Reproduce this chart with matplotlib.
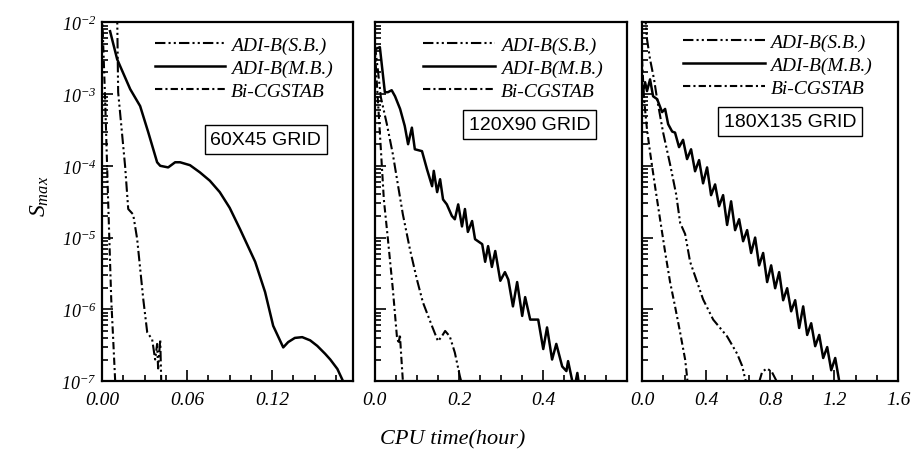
"""convergence history of S_max for the three grids"""
import numpy as np
import matplotlib.pyplot as plt
from matplotlib.ticker import FixedLocator, MultipleLocator, LogLocator, NullFormatter

plt.rcParams['font.family'] = 'Liberation Serif'
plt.rcParams['mathtext.fontset'] = 'custom'
plt.rcParams['mathtext.rm'] = 'Liberation Serif:italic'
plt.rcParams['mathtext.it'] = 'Liberation Serif:italic'

labels = ["ADI-B(S.B.)", "ADI-B(M.B.)", "Bi-CGSTAB"]
grids = ["60X45 GRID", "120X90 GRID", "180X135 GRID"]

# 60x45 grid
p1_sb_t = [0.0106, 0.0113, 0.0162, 0.0184, 0.0219, 0.0247, 0.0290, 0.0318, 0.0353,
           0.0374, 0.0388, 0.0395, 0.0410, 0.0417, 0.0420]
p1_sb_s = [1.3e-2, 1.06e-3, 9.9e-5, 2.5e-5, 2.1e-5, 9.6e-6, 1.4e-6, 4.8e-7, 3.8e-7,
           2.0e-7, 3.3e-7, 1.5e-7, 3.8e-7, 1.0e-7, 8e-8]
p1_mb_t = [0.0056, 0.0106, 0.0127, 0.0198, 0.0268, 0.0325, 0.0388, 0.0410, 0.0466,
           0.0515, 0.0550, 0.0620, 0.0690, 0.0760, 0.0830, 0.0900, 0.0974, 0.1080,
           0.1150, 0.1207, 0.1278, 0.1313, 0.1360, 0.1412, 0.1468, 0.1518, 0.1574,
           0.1610, 0.1660, 0.1700, 0.1720]
p1_mb_s = [7.5e-3, 3.05e-3, 2.45e-3, 1.17e-3, 6.8e-4, 2.95e-4, 1.12e-4, 1.0e-4, 9.5e-5,
           1.12e-4, 1.12e-4, 1.02e-4, 8.1e-5, 6.2e-5, 4.3e-5, 2.6e-5, 1.3e-5, 4.6e-6,
           1.74e-6, 5.9e-7, 2.95e-7, 3.5e-7, 4.0e-7, 4.1e-7, 3.7e-7, 3.1e-7, 2.4e-7,
           2.0e-7, 1.48e-7, 1.0e-7, 8.5e-8]
p1_bi_t = [0.000, 0.0021, 0.0042, 0.0064, 0.0078, 0.0092, 0.0095]
p1_bi_s = [1.3e-2, 8.5e-4, 3.4e-5, 1.4e-6, 3.8e-7, 1.0e-7, 8e-8]

# 120x90 grid
p2_sb_t = [0.000, 0.0071, 0.0143, 0.0286, 0.0428, 0.0547, 0.0666, 0.0833, 0.100,
           0.114, 0.136, 0.150, 0.159, 0.167, 0.178, 0.190, 0.202, 0.207]
p2_sb_s = [4.9e-3, 2.2e-3, 9.0e-4, 3.8e-4, 1.45e-4, 5.5e-5, 2.1e-5, 6.9e-6, 2.6e-6,
           1.26e-6, 5.8e-7, 3.6e-7, 4.2e-7, 5.0e-7, 4.2e-7, 2.5e-7, 1.17e-7, 9e-8]
p2_mb_t = [0.000, 0.0119, 0.0238, 0.031, 0.040, 0.048, 0.060, 0.071, 0.079, 0.088,
           0.095, 0.112, 0.124, 0.136, 0.140, 0.148, 0.155, 0.162, 0.171, 0.183,
           0.190, 0.198, 0.207, 0.214, 0.221, 0.231, 0.238, 0.255, 0.262, 0.269,
           0.278, 0.286, 0.298, 0.309, 0.317, 0.328, 0.338, 0.350, 0.357, 0.369,
           0.388, 0.400, 0.409, 0.421, 0.431, 0.445, 0.455, 0.459, 0.469, 0.474,
           0.481, 0.486]
p2_mb_s = [4.2e-3, 4.5e-3, 1.06e-3, 1.06e-3, 1.13e-3, 9.3e-4, 6.2e-4, 3.6e-4, 2.0e-4, 3.4e-4,
           1.7e-4, 1.6e-4, 8.9e-5, 5.2e-5, 8.5e-5, 4.3e-5, 6.5e-5, 3.4e-5, 2.9e-5, 2.0e-5,
           1.8e-5, 2.9e-5, 1.43e-5, 2.5e-5, 1.2e-5, 1.7e-5, 9.5e-6, 8.1e-6, 4.6e-6, 7.6e-6,
           3.9e-6, 6.5e-6, 2.5e-6, 3.3e-6, 2.6e-6, 1.1e-6, 2.4e-6, 8.1e-7, 1.48e-6, 7.2e-7,
           7.2e-7, 2.8e-7, 5.6e-7, 2.0e-7, 3.3e-7, 1.6e-7, 1.38e-7, 1.9e-7, 1.0e-7, 8e-8,
           1.3e-7, 8e-8]
p2_bi_t = [0.000, 0.0071, 0.0143, 0.0214, 0.031, 0.0428, 0.0524, 0.057, 0.0595,
           0.062, 0.0666, 0.069]
p2_bi_s = [4.2e-3, 8.5e-4, 1.7e-4, 3.4e-5, 9.6e-6, 1.9e-6, 4.2e-7, 3.3e-7, 4.5e-7,
           2.6e-7, 1.0e-7, 8e-8]

# 180x135 grid
p3_sb_t = [0.019, 0.031, 0.050, 0.075, 0.094, 0.131, 0.175, 0.213, 0.238, 0.269,
           0.300, 0.344, 0.381, 0.444, 0.531, 0.594, 0.625, 0.644, 0.663, 0.720,
           0.750, 0.780, 0.810, 0.840, 0.856]
p3_sb_s = [1.3e-2, 5.8e-3, 3.05e-3, 1.6e-3, 8.5e-4, 2.95e-4, 1.05e-4, 4.0e-5, 1.6e-5, 1.12e-5,
           4.6e-6, 2.4e-6, 1.38e-6, 7.2e-7, 4.2e-7, 2.4e-7, 1.63e-7, 1.07e-7, 8e-8, 8e-8,
           1.35e-7, 1.5e-7, 1.35e-7, 1.0e-7, 8e-8]
p3_mb_t = [0.000, 0.019, 0.031, 0.050, 0.069, 0.094, 0.113, 0.125, 0.144, 0.163,
           0.188, 0.206, 0.231, 0.256, 0.281, 0.306, 0.331, 0.356, 0.381, 0.406,
           0.431, 0.456, 0.481, 0.506, 0.531, 0.556, 0.581, 0.606, 0.631, 0.656,
           0.681, 0.706, 0.731, 0.756, 0.781, 0.806, 0.831, 0.856, 0.881, 0.906,
           0.931, 0.956, 0.981, 1.006, 1.031, 1.056, 1.081, 1.106, 1.131, 1.156,
           1.181, 1.206, 1.231, 1.250]
p3_mb_s = [9.3e-4, 1.46e-3, 1.1e-3, 1.6e-3, 9.3e-4, 8.5e-4, 6.6e-4, 5.6e-4, 6.2e-4, 3.8e-4,
           3.0e-4, 2.9e-4, 1.82e-4, 2.3e-4, 1.24e-4, 1.7e-4, 8.4e-5, 1.2e-4, 5.7e-5, 9.5e-5,
           3.9e-5, 5.5e-5, 2.74e-5, 3.9e-5, 1.5e-5, 3.2e-5, 1.27e-5, 1.8e-5, 8.9e-6, 1.27e-5,
           6.1e-6, 1.0e-5, 4.1e-6, 6.1e-6, 2.4e-6, 4.1e-6, 1.97e-6, 3.3e-6, 1.34e-6, 1.97e-6,
           9.4e-7, 1.34e-6, 5.5e-7, 1.1e-6, 4.4e-7, 6.4e-7, 3.07e-7, 4.4e-7, 2.1e-7, 2.98e-7,
           1.42e-7, 2.1e-7, 1.0e-7, 8e-8]
p3_bi_t = [0.000, 0.0125, 0.031, 0.050, 0.081, 0.1125, 0.144, 0.175, 0.206, 0.2375,
           0.269, 0.281, 0.2875]
p3_bi_s = [3.05e-3, 8.5e-4, 3.2e-4, 1.55e-4, 5.2e-5, 1.8e-5, 6.3e-6, 2.4e-6, 1.1e-6, 4.8e-7,
           2.0e-7, 1.15e-7, 8e-8]

series = [
    [(p1_sb_t, p1_sb_s), (p1_mb_t, p1_mb_s), (p1_bi_t, p1_bi_s)],
    [(p2_sb_t, p2_sb_s), (p2_mb_t, p2_mb_s), (p2_bi_t, p2_bi_s)],
    [(p3_sb_t, p3_sb_s), (p3_mb_t, p3_mb_s), (p3_bi_t, p3_bi_s)],
]
x_max = [0.177, 0.6, 1.6]
x_ticks = [[0.0, 0.06, 0.12], [0.0, 0.2, 0.4], [0.0, 0.4, 0.8, 1.2, 1.6]]
x_minor = [0.015, 0.05, 0.4 / 3]
x_fmt = ["%.2f", "%.1f", "%.1f"]

styles = [dict(ls=(0, (5, 1.5, 1, 1.5, 1, 1.5)), lw=1.5),
          dict(ls='-', lw=1.8),
          dict(ls=(0, (3.5, 1.5, 1, 1.5)), lw=1.5)]

# layout (figure fractions)
ax_rects = [[0.112, 0.162, 0.275, 0.787],
            [0.411, 0.162, 0.277, 0.787],
            [0.704, 0.162, 0.281, 0.787]]
leg_pos = [(0.21, 0.962), (0.19, 0.962), (0.16, 0.970)]
leg_hl = [3.6, 3.7, 4.2]
box_pos = [(0.653, 0.674), (0.613, 0.716), (0.578, 0.724)]

fig = plt.figure(figsize=(9.12, 4.56), dpi=100)
decades = [1e-7, 1e-6, 1e-5, 1e-4, 1e-3, 1e-2]
italic = {'family': 'Liberation Serif', 'style': 'italic', 'size': 14}

for i in range(3):
    ax = fig.add_axes(ax_rects[i])
    handles = []
    for (t, s), st in zip(series[i], styles):
        line, = ax.plot(t, s, color='k', **st)
        handles.append(line)
    ax.set_yscale('log')
    ax.set_ylim(1e-7, 1e-2)
    ax.set_xlim(0, x_max[i])

    ax.yaxis.set_major_locator(FixedLocator(decades))
    ax.yaxis.set_minor_locator(LogLocator(base=10, subs=np.arange(2, 10)))
    ax.yaxis.set_minor_formatter(NullFormatter())
    if i == 0:
        ax.set_yticklabels([r'$10^{%d}$' % np.log10(d) for d in decades])
    else:
        ax.set_yticklabels([])

    ax.xaxis.set_major_locator(FixedLocator(x_ticks[i]))
    ax.set_xticklabels([x_fmt[i] % v for v in x_ticks[i]], fontstyle='italic')
    ax.xaxis.set_minor_locator(MultipleLocator(x_minor[i]))

    ax.tick_params(which='both', direction='in', top=False, right=False,
                   labelsize=14, width=1.2)
    ax.tick_params(which='major', length=8)
    ax.tick_params(which='minor', length=4)
    ax.tick_params(axis='x', pad=7)
    ax.tick_params(axis='y', labelsize=13, pad=4)
    for sp in ax.spines.values():
        sp.set_linewidth(1.6)

    ax.legend(handles, labels, loc='upper left', bbox_to_anchor=leg_pos[i],
              frameon=False, borderpad=0, borderaxespad=0, prop=italic,
              handlelength=leg_hl[i], handletextpad=0.3, labelspacing=0.28)
    ax.text(box_pos[i][0], box_pos[i][1], grids[i], transform=ax.transAxes,
            ha='center', va='center', family='Liberation Sans', size=14,
            bbox=dict(boxstyle='square,pad=0.3', fc='white', ec='k', lw=1))

fig.text(0.044, 0.57, r'$S_{max}$', rotation=90, ha='center', va='center', size=17)
fig.text(0.496, 0.035, 'CPU time(hour)', ha='center', va='center', size=16,
         fontstyle='italic')

fig.savefig('out.png', dpi=100)
